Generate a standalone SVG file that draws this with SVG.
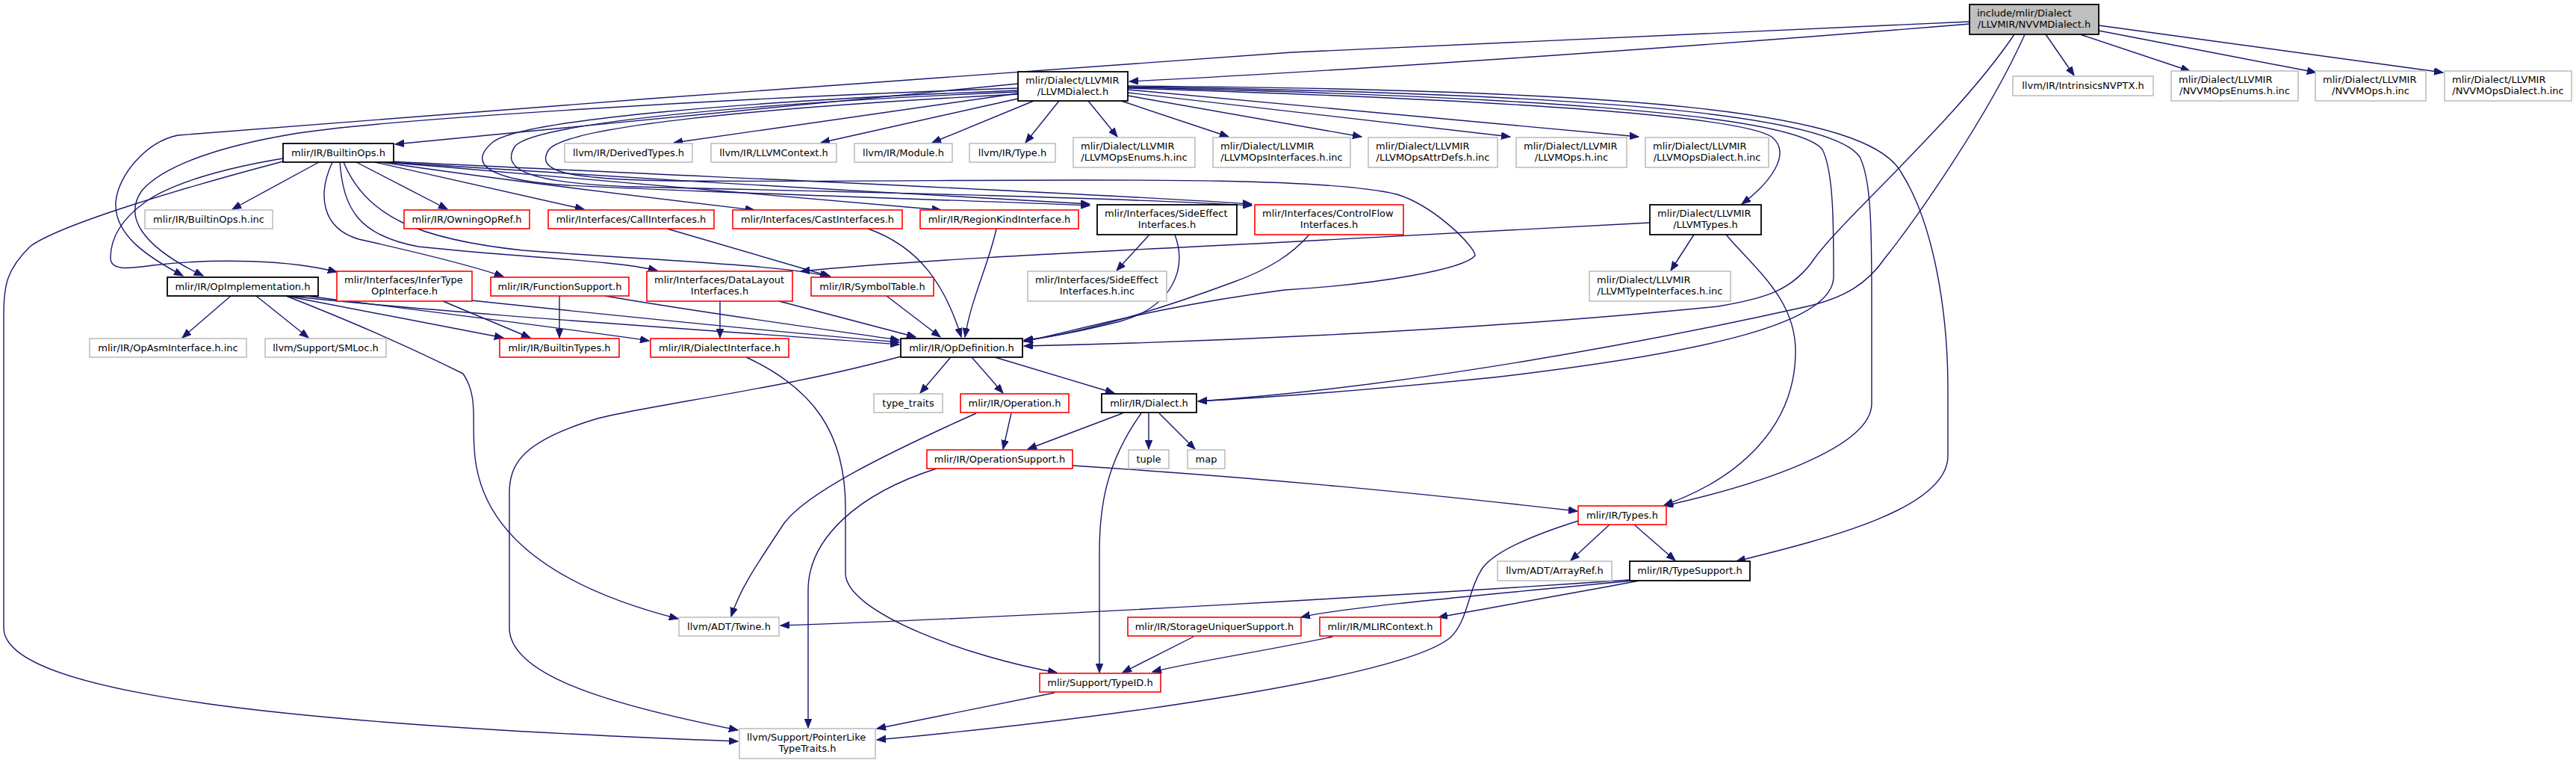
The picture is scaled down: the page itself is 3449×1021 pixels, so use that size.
<svg xmlns="http://www.w3.org/2000/svg" width="3449" height="1021" viewBox="0 0 3449 1021">
<style>
rect{fill:#fff;stroke-width:1.6}
.b{stroke:#000;stroke-width:1.8}
.g{stroke:#bfbfbf}
.r{stroke:#ff0000}
.root{fill:#bfbfbf;stroke:#000;stroke-width:1.8}
text{font-family:"DejaVu Sans","Liberation Sans",sans-serif;font-size:13px;fill:#000}
.m{text-anchor:middle}
.s{text-anchor:start}
#edges path{fill:none;stroke:#191970;stroke-width:1.4;marker-end:url(#a)}
</style>
<defs>
<marker id="a" markerWidth="13" markerHeight="10" refX="12" refY="4.75" orient="auto" markerUnits="userSpaceOnUse">
<path d="M0,0 L12,4.75 L0,9.5 z" fill="#191970" stroke="#191970" stroke-width="1"/>
</marker>
</defs>
<rect x="0" y="0" width="3449" height="1021" style="fill:#fff;stroke:none"/>
<g id="edges">
<path d="M2637,32 C2300,60 1800,95 1512,109"/>
<path d="M2637,29 L1730,70 L870,132 L238,181 C195,190 158,235 155,270 C152,315 200,345 245,369"/>
<path d="M2697,46 C2620,160 2470,290 2430,345 C2400,390 2360,400 2300,410 C2000,440 1650,457 1371,463"/>
<path d="M2711,46 C2660,160 2560,300 2524,345 C2500,380 2470,398 2420,410 C2150,470 1850,520 1604,537"/>
<path d="M2739,46 L2777,101"/>
<path d="M2785,46 L2932,95"/>
<path d="M2810,41 L3101,97"/>
<path d="M2810,34 L3271,97"/>
<path d="M1363,125 L902,191"/>
<path d="M1363,132 L1099,191"/>
<path d="M1384,135 L1248,191"/>
<path d="M1418,135 L1373,191"/>
<path d="M1457,135 L1496,183"/>
<path d="M1501,135 L1645,183"/>
<path d="M1510,128 L1823,183"/>
<path d="M1510,124 L2022,183"/>
<path d="M1510,120 L2194,183"/>
<path d="M1510,118 C1900,130 2320,150 2372,183 C2400,205 2370,245 2332,273"/>
<path d="M1510,117 C2000,128 2400,150 2440,200 C2455,230 2455,300 2455,370 C2455,430 2300,470 2000,505 C1800,525 1700,532 1604,537"/>
<path d="M1510,116 C2100,125 2450,150 2490,210 C2505,240 2506,300 2506,400 L2506,540 C2506,600 2350,650 2228,677"/>
<path d="M1510,115 C2200,120 2500,150 2545,230 C2590,300 2608,420 2608,520 L2608,610 C2608,680 2450,720 2325,751"/>
<path d="M1363,112 L529,193"/>
<path d="M1363,118 C1000,130 500,160 388,180 C300,195 220,220 190,255 C165,290 190,330 272,369"/>
<path d="M1363,121 C1000,135 700,160 660,190 C630,215 640,240 760,248 C1000,260 1300,268 1459,275"/>
<path d="M1363,123 C1000,138 720,165 690,195 C670,225 700,245 850,250 C1200,258 1500,265 1676,275"/>
<path d="M1363,126 C1000,145 760,170 735,200 C715,230 760,240 900,242 C1300,245 1750,230 1870,260 C1920,275 1975,330 1975,342 C1960,360 1850,380 1720,388 C1550,410 1450,440 1371,457"/>
<path d="M427,217 L311,280"/>
<path d="M477,217 L599,280"/>
<path d="M502,217 L782,280"/>
<path d="M510,217 C700,245 900,268 1010,281"/>
<path d="M515,217 C800,240 1100,265 1260,281"/>
<path d="M520,217 C800,235 1200,260 1459,273"/>
<path d="M522,216 C900,235 1400,255 1676,273"/>
<path d="M379,212 C300,225 230,245 195,270 C160,295 148,320 148,345 C148,362 170,360 205,355 C290,345 390,348 451,364"/>
<path d="M379,216 C250,250 80,300 40,330 C10,360 5,380 5,420 L5,840 C5,930 400,970 988,992"/>
<path d="M445,217 C425,260 430,305 480,320 C560,338 630,355 674,370"/>
<path d="M455,217 C460,280 480,315 560,330 C700,345 820,348 880,362"/>
<path d="M460,217 C490,290 560,320 700,335 C900,350 1050,355 1110,370"/>
<path d="M2209,298 L1720,324 C1400,340 1200,350 1072,363"/>
<path d="M2268,314 L2237,362"/>
<path d="M2311,314 C2350,360 2404,400 2404,470 C2404,570 2330,640 2228,676"/>
<path d="M1753,314 C1730,340 1700,360 1650,378 C1550,415 1450,445 1371,456"/>
<path d="M1573,314 C1590,360 1570,410 1500,430 C1440,445 1400,452 1371,455"/>
<path d="M1539,314 L1495,362"/>
<path d="M1334,306 C1325,350 1300,400 1292,451"/>
<path d="M1162,306 C1230,330 1265,380 1287,451"/>
<path d="M893,306 L1112,370"/>
<path d="M1187,396 L1259,451"/>
<path d="M1043,403 L1226,451"/>
<path d="M964,403 L964,452"/>
<path d="M749,396 L749,452"/>
<path d="M810,396 C950,420 1100,440 1204,455"/>
<path d="M593,403 L710,452"/>
<path d="M631,402 C850,425 1050,445 1204,458"/>
<path d="M309,396 L244,452"/>
<path d="M343,396 L413,452"/>
<path d="M383,396 L674,452"/>
<path d="M388,396 C600,420 1000,445 1204,461"/>
<path d="M410,396 C600,420 800,445 869,456"/>
<path d="M383,396 C470,430 560,470 620,500 C640,530 632,560 635,600 C640,700 720,780 908,828"/>
<path d="M1206,477 C1050,520 880,540 800,560 C700,590 682,620 682,660 L682,840 C682,900 800,940 988,977"/>
<path d="M1273,478 L1232,526"/>
<path d="M1301,478 L1343,526"/>
<path d="M1332,478 L1492,526"/>
<path d="M1354,553 L1343,601"/>
<path d="M1307,553 C1180,610 1080,660 1050,700 C1010,760 990,790 979,825"/>
<path d="M1503,553 L1376,601"/>
<path d="M1538,553 L1538,601"/>
<path d="M1552,553 L1600,601"/>
<path d="M1528,553 C1480,620 1472,680 1472,740 L1472,900"/>
<path d="M1436,623 C1700,640 1900,660 2112,684"/>
<path d="M1254,627 C1150,660 1082,720 1082,790 L1082,974"/>
<path d="M999,478 C1090,520 1132,580 1132,680 L1132,767 C1132,820 1300,880 1415,900"/>
<path d="M2155,702 L2103,750"/>
<path d="M2188,702 L2243,750"/>
<path d="M2113,697 C2040,720 2000,740 1985,760 C1965,790 1966,830 1942,853 C1880,905 1500,960 1174,990"/>
<path d="M2182,776 C1900,795 1400,825 1045,837"/>
<path d="M2185,777 C2000,795 1800,812 1742,826"/>
<path d="M2195,777 C2100,795 2000,812 1926,826"/>
<path d="M1598,852 L1503,900"/>
<path d="M1784,852 C1700,870 1600,885 1543,899"/>
<path d="M1412,927 L1174,975"/>
</g>
<g id="nvvm"><rect class="root" x="2637" y="6" width="173" height="40"/><text class="s" x="2647" y="21.5">include/mlir/Dialect</text><text class="m" x="2723.5" y="36.5">/LLVMIR/NVVMDialect.h</text></g>
<g id="llvmdialect"><rect class="b" x="1363" y="96" width="147" height="39"/><text class="s" x="1373" y="111.5">mlir/Dialect/LLVMIR</text><text class="m" x="1436.5" y="126.5">/LLVMDialect.h</text></g>
<g id="intrinsics"><rect class="g" x="2695" y="102" width="188" height="26"/><text class="m" x="2789" y="119">llvm/IR/IntrinsicsNVPTX.h</text></g>
<g id="nvvmenums"><rect class="g" x="2907" y="95" width="170" height="40"/><text class="s" x="2917" y="110.5">mlir/Dialect/LLVMIR</text><text class="m" x="2992" y="125.5">/NVVMOpsEnums.h.inc</text></g>
<g id="nvvmops"><rect class="g" x="3100" y="95" width="148" height="40"/><text class="s" x="3110" y="110.5">mlir/Dialect/LLVMIR</text><text class="m" x="3174" y="125.5">/NVVMOps.h.inc</text></g>
<g id="nvvmdialectinc"><rect class="g" x="3273" y="95" width="170" height="40"/><text class="s" x="3283" y="110.5">mlir/Dialect/LLVMIR</text><text class="m" x="3358" y="125.5">/NVVMOpsDialect.h.inc</text></g>
<g id="builtinops"><rect class="b" x="379" y="192" width="148" height="25"/><text class="m" x="453" y="208.5">mlir/IR/BuiltinOps.h</text></g>
<g id="derivedtypes"><rect class="g" x="756" y="192" width="171" height="25"/><text class="m" x="841.5" y="208.5">llvm/IR/DerivedTypes.h</text></g>
<g id="llvmcontext"><rect class="g" x="952" y="192" width="168" height="25"/><text class="m" x="1036" y="208.5">llvm/IR/LLVMContext.h</text></g>
<g id="module"><rect class="g" x="1144" y="192" width="131" height="25"/><text class="m" x="1209.5" y="208.5">llvm/IR/Module.h</text></g>
<g id="type"><rect class="g" x="1298" y="192" width="115" height="25"/><text class="m" x="1355.5" y="208.5">llvm/IR/Type.h</text></g>
<g id="llvmopsenums"><rect class="g" x="1437" y="184" width="163" height="40"/><text class="s" x="1447" y="199.5">mlir/Dialect/LLVMIR</text><text class="m" x="1518.5" y="214.5">/LLVMOpsEnums.h.inc</text></g>
<g id="llvmopsinterfaces"><rect class="g" x="1624" y="184" width="184" height="40"/><text class="s" x="1634" y="199.5">mlir/Dialect/LLVMIR</text><text class="m" x="1716" y="214.5">/LLVMOpsInterfaces.h.inc</text></g>
<g id="llvmopsattrdefs"><rect class="g" x="1832" y="184" width="173" height="40"/><text class="s" x="1842" y="199.5">mlir/Dialect/LLVMIR</text><text class="m" x="1918.5" y="214.5">/LLVMOpsAttrDefs.h.inc</text></g>
<g id="llvmops"><rect class="g" x="2030" y="184" width="148" height="40"/><text class="s" x="2040" y="199.5">mlir/Dialect/LLVMIR</text><text class="m" x="2104" y="214.5">/LLVMOps.h.inc</text></g>
<g id="llvmopsdialect"><rect class="g" x="2203" y="184" width="165" height="40"/><text class="s" x="2213" y="199.5">mlir/Dialect/LLVMIR</text><text class="m" x="2285.5" y="214.5">/LLVMOpsDialect.h.inc</text></g>
<g id="builtinopsinc"><rect class="g" x="194" y="281" width="171" height="25"/><text class="m" x="279.5" y="297.5">mlir/IR/BuiltinOps.h.inc</text></g>
<g id="owningopref"><rect class="r" x="541" y="281" width="168" height="25"/><text class="m" x="625" y="297.5">mlir/IR/OwningOpRef.h</text></g>
<g id="callinterfaces"><rect class="r" x="734" y="281" width="222" height="25"/><text class="m" x="845" y="297.5">mlir/Interfaces/CallInterfaces.h</text></g>
<g id="castinterfaces"><rect class="r" x="981" y="281" width="227" height="25"/><text class="m" x="1094.5" y="297.5">mlir/Interfaces/CastInterfaces.h</text></g>
<g id="regionkind"><rect class="r" x="1232" y="281" width="212" height="25"/><text class="m" x="1338" y="297.5">mlir/IR/RegionKindInterface.h</text></g>
<g id="sideeffect"><rect class="b" x="1469" y="274" width="187" height="40"/><text class="s" x="1479" y="289.5">mlir/Interfaces/SideEffect</text><text class="m" x="1562.5" y="304.5">Interfaces.h</text></g>
<g id="controlflow"><rect class="r" x="1680" y="274" width="199" height="40"/><text class="s" x="1690" y="289.5">mlir/Interfaces/ControlFlow</text><text class="m" x="1779.5" y="304.5">Interfaces.h</text></g>
<g id="llvmtypes"><rect class="b" x="2209" y="274" width="149" height="40"/><text class="s" x="2219" y="289.5">mlir/Dialect/LLVMIR</text><text class="m" x="2283.5" y="304.5">/LLVMTypes.h</text></g>
<g id="opimplementation"><rect class="b" x="224" y="371" width="202" height="25"/><text class="m" x="325" y="387.5">mlir/IR/OpImplementation.h</text></g>
<g id="infertype"><rect class="r" x="451" y="363" width="181" height="40"/><text class="s" x="461" y="378.5">mlir/Interfaces/InferType</text><text class="m" x="541.5" y="393.5">OpInterface.h</text></g>
<g id="functionsupport"><rect class="r" x="657" y="371" width="185" height="25"/><text class="m" x="749.5" y="387.5">mlir/IR/FunctionSupport.h</text></g>
<g id="datalayout"><rect class="r" x="866" y="363" width="195" height="40"/><text class="s" x="876" y="378.5">mlir/Interfaces/DataLayout</text><text class="m" x="963.5" y="393.5">Interfaces.h</text></g>
<g id="symboltable"><rect class="r" x="1086" y="371" width="164" height="25"/><text class="m" x="1168" y="387.5">mlir/IR/SymbolTable.h</text></g>
<g id="sideeffectinc"><rect class="g" x="1376" y="363" width="186" height="40"/><text class="s" x="1386" y="378.5">mlir/Interfaces/SideEffect</text><text class="m" x="1469" y="393.5">Interfaces.h.inc</text></g>
<g id="llvmtypeinterfaces"><rect class="g" x="2128" y="363" width="189" height="40"/><text class="s" x="2138" y="378.5">mlir/Dialect/LLVMIR</text><text class="m" x="2222.5" y="393.5">/LLVMTypeInterfaces.h.inc</text></g>
<g id="opasminterface"><rect class="g" x="120" y="453" width="210" height="25"/><text class="m" x="225" y="469.5">mlir/IR/OpAsmInterface.h.inc</text></g>
<g id="smloc"><rect class="g" x="355" y="453" width="162" height="25"/><text class="m" x="436" y="469.5">llvm/Support/SMLoc.h</text></g>
<g id="builtintypes"><rect class="r" x="669" y="453" width="160" height="25"/><text class="m" x="749" y="469.5">mlir/IR/BuiltinTypes.h</text></g>
<g id="dialectinterface"><rect class="r" x="871" y="453" width="185" height="25"/><text class="m" x="963.5" y="469.5">mlir/IR/DialectInterface.h</text></g>
<g id="opdefinition"><rect class="b" x="1206" y="453" width="163" height="25"/><text class="m" x="1287.5" y="469.5">mlir/IR/OpDefinition.h</text></g>
<g id="typetraits"><rect class="g" x="1170" y="527" width="92" height="25"/><text class="m" x="1216" y="543.5">type_traits</text></g>
<g id="operation"><rect class="r" x="1286" y="527" width="145" height="25"/><text class="m" x="1358.5" y="543.5">mlir/IR/Operation.h</text></g>
<g id="dialect"><rect class="b" x="1475" y="527" width="127" height="25"/><text class="m" x="1538.5" y="543.5">mlir/IR/Dialect.h</text></g>
<g id="operationsupport"><rect class="r" x="1241" y="602" width="195" height="25"/><text class="m" x="1338.5" y="618.5">mlir/IR/OperationSupport.h</text></g>
<g id="tuple"><rect class="g" x="1511" y="602" width="54" height="25"/><text class="m" x="1538" y="618.5">tuple</text></g>
<g id="map"><rect class="g" x="1590" y="602" width="50" height="25"/><text class="m" x="1615" y="618.5">map</text></g>
<g id="types"><rect class="r" x="2113" y="677" width="118" height="25"/><text class="m" x="2172" y="693.5">mlir/IR/Types.h</text></g>
<g id="arrayref"><rect class="g" x="2005" y="751" width="153" height="26"/><text class="m" x="2081.5" y="768">llvm/ADT/ArrayRef.h</text></g>
<g id="typesupport"><rect class="b" x="2182" y="751" width="161" height="26"/><text class="m" x="2262.5" y="768">mlir/IR/TypeSupport.h</text></g>
<g id="twine"><rect class="g" x="909" y="826" width="134" height="25"/><text class="m" x="976" y="842.5">llvm/ADT/Twine.h</text></g>
<g id="storageuniquer"><rect class="r" x="1510" y="826" width="232" height="25"/><text class="m" x="1626" y="842.5">mlir/IR/StorageUniquerSupport.h</text></g>
<g id="mlircontext"><rect class="r" x="1767" y="826" width="162" height="25"/><text class="m" x="1848" y="842.5">mlir/IR/MLIRContext.h</text></g>
<g id="typeid"><rect class="r" x="1392" y="901" width="162" height="25"/><text class="m" x="1473" y="917.5">mlir/Support/TypeID.h</text></g>
<g id="pointerlike"><rect class="g" x="990" y="975" width="182" height="40"/><text class="s" x="1000" y="990.5">llvm/Support/PointerLike</text><text class="m" x="1081" y="1005.5">TypeTraits.h</text></g>
</svg>
